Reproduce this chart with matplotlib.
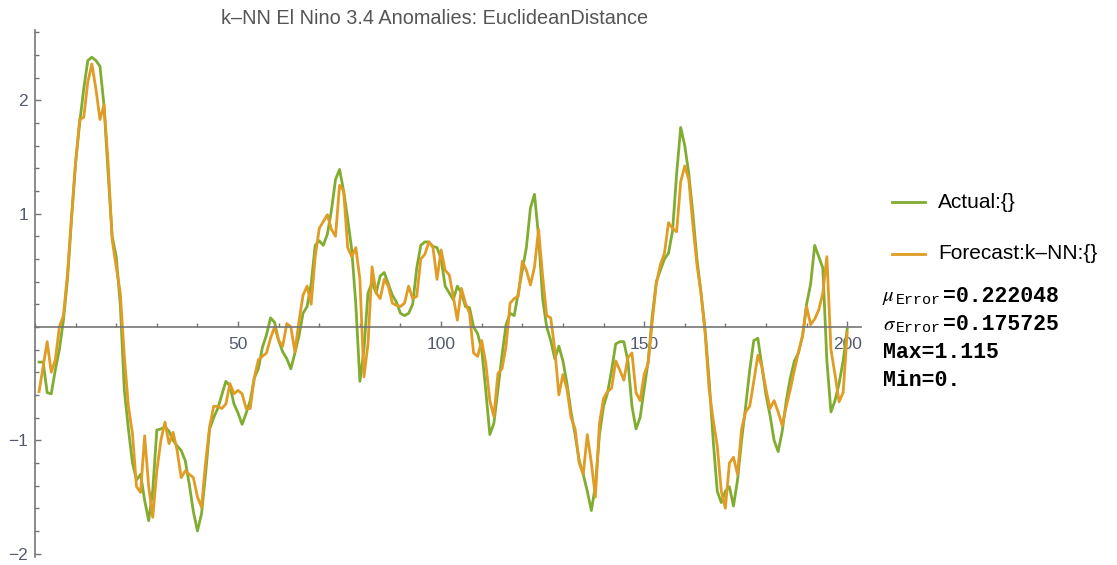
import numpy as np
import matplotlib
matplotlib.use("Agg")
import matplotlib.pyplot as plt
from matplotlib.ticker import MultipleLocator
from matplotlib.lines import Line2D

# Nino 3.4 anomalies, months 1..200
actual = [
    -0.31, -0.31, -0.58, -0.59, -0.38, -0.2, 0.06, 0.42, 0.95, 1.45,
    1.8, 2.1, 2.35, 2.38, 2.35, 2.3, 1.95, 1.36, 0.8, 0.62,
    0.2, -0.56, -0.9, -1.2, -1.35, -1.3, -1.53, -1.71, -1.44, -0.91,
    -0.9, -0.88, -0.92, -1.0, -1.05, -1.09, -1.18, -1.39, -1.63, -1.8,
    -1.65, -1.3, -0.9, -0.8, -0.72, -0.6, -0.48, -0.52, -0.68, -0.76,
    -0.86, -0.76, -0.65, -0.45, -0.37, -0.18, -0.07, 0.08, 0.04, -0.12,
    -0.22, -0.28, -0.37, -0.23, -0.08, 0.12, 0.18, 0.38, 0.72, 0.76,
    0.72, 0.82, 1.03, 1.3, 1.39, 1.2, 0.95, 0.68, 0.2, -0.48,
    -0.2, 0.3, 0.39, 0.3, 0.45, 0.48, 0.38, 0.28, 0.22, 0.12,
    0.1, 0.12, 0.2, 0.52, 0.72, 0.75, 0.75, 0.71, 0.7, 0.6,
    0.36, 0.3, 0.24, 0.36, 0.3, 0.18, 0.17, 0.0, -0.06, -0.2,
    -0.56, -0.95, -0.85, -0.55, -0.25, 0.02, 0.12, 0.1, 0.3, 0.5,
    0.7, 1.05, 1.17, 0.8, 0.25, 0.0, -0.12, -0.28, -0.17, -0.3,
    -0.5, -0.75, -0.95, -1.18, -1.3, -1.45, -1.62, -1.4, -0.95, -0.7,
    -0.58, -0.38, -0.15, -0.13, -0.13, -0.3, -0.7, -0.9, -0.8, -0.55,
    -0.3, 0.1, 0.4, 0.5, 0.6, 0.65, 0.85, 1.35, 1.76, 1.6,
    1.35, 1.0, 0.6, 0.3, -0.02, -0.47, -1.0, -1.45, -1.55, -1.45,
    -1.41, -1.58, -1.35, -1.0, -0.7, -0.38, -0.12, -0.1, -0.35, -0.6,
    -0.78, -1.0, -1.1, -0.92, -0.65, -0.45, -0.3, -0.23, -0.08, 0.2,
    0.38, 0.72, 0.62, 0.52, -0.3, -0.75, -0.65, -0.5, -0.3, -0.02,
]

forecast = [
    -0.57, -0.35, -0.13, -0.4, -0.29, 0.0, 0.1, 0.47, 0.98, 1.45,
    1.83, 1.85, 2.16, 2.32, 2.1, 1.83, 1.96, 1.45, 0.77, 0.53,
    0.3, -0.26, -0.7, -0.94, -1.41, -1.46, -0.96, -1.41, -1.68, -1.27,
    -1.0, -0.84, -1.03, -0.93, -1.09, -1.33, -1.27, -1.3, -1.33, -1.5,
    -1.59, -1.2, -0.88, -0.7, -0.7, -0.72, -0.68, -0.5, -0.59, -0.56,
    -0.59, -0.72, -0.72, -0.45, -0.29, -0.26, -0.23, -0.1, 0.0, -0.12,
    -0.17, 0.03, 0.0, -0.22, 0.05, 0.28, 0.36, 0.2, 0.62, 0.87,
    0.93, 0.99, 0.86, 0.8, 1.25, 1.2, 0.7, 0.62, 0.7, 0.42,
    -0.44, -0.15, 0.53, 0.3, 0.25, 0.42, 0.36, 0.21, 0.19, 0.18,
    0.21, 0.36, 0.25, 0.27, 0.6, 0.64, 0.75, 0.7, 0.42, 0.68,
    0.5, 0.46, 0.27, 0.06, 0.34, 0.21, 0.12, -0.23, -0.26, -0.12,
    -0.32, -0.65, -0.79, -0.41, -0.37, -0.17, 0.21, 0.25, 0.27, 0.58,
    0.5, 0.37, 0.53, 0.86, 0.45, 0.1, 0.08, -0.2, -0.6, -0.42,
    -0.55, -0.8, -0.9, -1.2, -1.3, -0.95, -1.2, -1.5, -0.85, -0.63,
    -0.57, -0.54, -0.3, -0.38, -0.47, -0.27, -0.23, -0.58, -0.65, -0.42,
    -0.32, 0.05, 0.38, 0.55, 0.65, 0.92, 0.87, 0.84, 1.28, 1.42,
    1.3, 0.9, 0.55, 0.3, -0.05, -0.55, -0.82, -1.05, -1.45, -1.6,
    -1.2, -1.15, -1.3, -0.9, -0.75, -0.7, -0.48, -0.25, -0.35, -0.55,
    -0.72, -0.65, -0.75, -0.87, -0.7, -0.55, -0.38, -0.22, -0.08, 0.18,
    0.02, 0.07, 0.15, 0.3, 0.62, -0.2, -0.42, -0.66, -0.58, -0.05,
]

months = np.arange(1, len(actual) + 1)

title = "k\u2013NN El Nino 3.4 Anomalies: EuclideanDistance"
labels = ["Actual:{}", "Forecast:k\u2013NN:{}"]
stats = [("\u03bc", "0.222048"), ("\u03c3", "0.175725")]
extremes = ["Max=1.115", "Min=0."]

green = "#80ad30"
orange = "#e09c24"
axis_gray = "#757575"
label_gray = "#535a6c"

W, H = 1117, 565


def px(x, y):
    return x / W, 1 - y / H


fig = plt.figure(figsize=(W / 100, H / 100), dpi=100)
ax = fig.add_axes([35 / W, 1 - 557 / H, (861 - 35) / W, (557 - 30) / H])

ax.plot(months, actual, color=green, lw=2.0)
ax.plot(months, forecast, color=orange, lw=2.0)

ax.set_xlim(0, 203.4)
ax.set_ylim(-2.03, 2.62)

for s in ("top", "right"):
    ax.spines[s].set_visible(False)
ax.spines["bottom"].set_position(("data", 0))
for s in ("left", "bottom"):
    ax.spines[s].set_color(axis_gray)
    ax.spines[s].set_linewidth(1.2)

ax.xaxis.set_major_locator(MultipleLocator(50))
ax.xaxis.set_minor_locator(MultipleLocator(10))
ax.yaxis.set_major_locator(MultipleLocator(1))
ax.yaxis.set_minor_locator(MultipleLocator(0.2))
ax.set_xticks([50, 100, 150, 200])
ax.set_yticks([-2, -1, 1, 2])
ax.tick_params(which="both", direction="in", color=axis_gray, width=1.0)
ax.tick_params(which="major", length=4.5, labelsize=12.5, labelcolor=label_gray)
ax.tick_params(which="minor", length=2.6)
ax.tick_params(axis="x", pad=7)
ax.tick_params(axis="y", pad=5)
ax.set_yticklabels(["\u22122", "\u22121", "1", "2"])
for t in ax.get_xticklabels() + ax.get_yticklabels():
    t.set_fontfamily("Liberation Sans")

fig.text(*px(435, 19), title, ha="center", va="center", fontsize=14.3,
         color="#555555", family="Liberation Sans")

# legend entries
for i, (lab, col) in enumerate(zip(labels, [green, orange])):
    y = 202 + 51.5 * i
    x0, y0 = px(892, y)
    x1, _ = px(925, y)
    fig.add_artist(Line2D([x0, x1], [y0, y0], color=col, lw=2.0))
    fig.text(*px(938, y), lab, ha="left", va="center", fontsize=15,
             color="black", family="Liberation Sans")

# error summary
mono = dict(family="Liberation Mono", fontsize=15.5, color="black", weight="bold")
for i, (sym, val) in enumerate(stats):
    y = 296 + 28.5 * i
    fig.text(*px(883, y), sym, ha="left", va="center", fontsize=15,
             family="STIXGeneral", style="italic", color="black")
    fig.text(*px(896, y + 4), "Error", ha="left", va="center",
             family="Liberation Mono", fontsize=10.8, color="black")
    fig.text(*px(943, y), "=" + val, ha="left", va="center", **mono)
for i, s in enumerate(extremes):
    fig.text(*px(883, 352 + 28 * i), s, ha="left", va="center", **mono)

fig.savefig("out.png", dpi=100)
